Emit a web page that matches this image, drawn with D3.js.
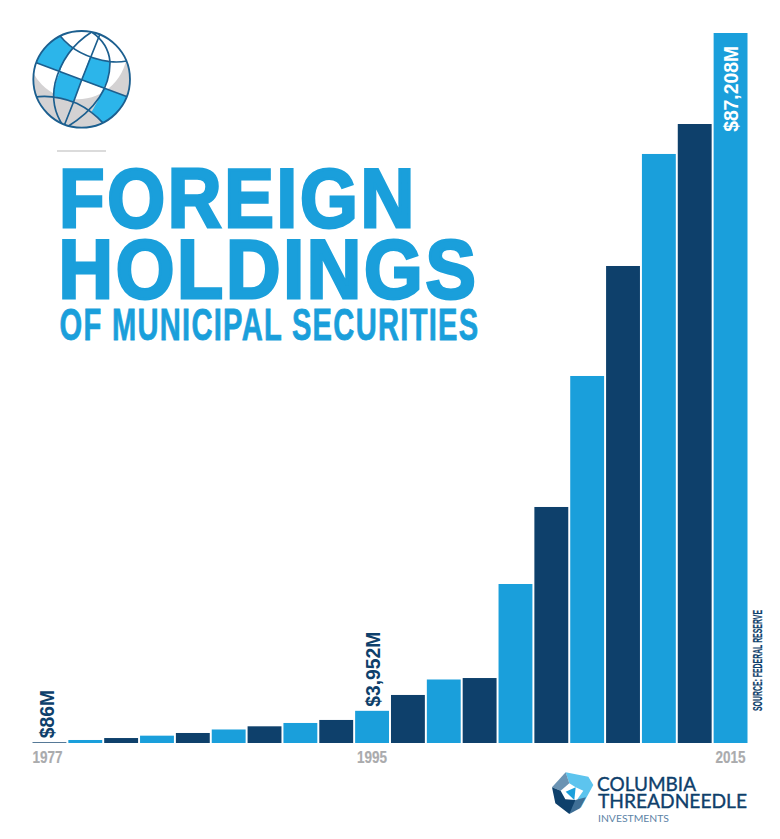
<!DOCTYPE html>
<html>
<head>
<meta charset="utf-8">
<script src="https://cdn.jsdelivr.net/npm/d3@7"></script>
<style>
  html, body { margin: 0; padding: 0; background: #fff; }
  svg { display: block; }
  text { font-family: "Liberation Sans", sans-serif; font-weight: bold; }
</style>
</head>
<body>
<div id="chart"></div>
<script>
const years = [1977, 1979, 1981, 1983, 1985, 1987, 1989, 1991, 1993, 1995,
               1997, 1999, 2001, 2003, 2005, 2007, 2009, 2011, 2013, 2015];
const holdings = [86, 370, 610, 900, 1230, 1660, 2050, 2460, 2830, 3952,
                  5900, 7800, 7980, 19530, 28990, 45080, 58590, 72350, 76030, 87208];
const tickYears = [1977, 1995, 2015];
const labelYears = [1977, 1995, 2015];
const labelText = ["$86M", "$3,952M", "$87,208M"];

const light = "#1a9fdb", dark = "#0e406b";

const width = 780, height = 839,
    margin = ({top: 33, right: 32.5, bottom: 96, left: 32.5});

const svg = d3.select("#chart")
    .append("svg")
    .attr("width", width)
    .attr("height", height)
    .attr("viewBox", [0, 0, width, height]);

let x = d3.scaleBand()
    .domain(years)
    .range([margin.left, width - margin.right])
    .paddingInner(0.055)
    .paddingOuter(0);

let y = d3.scaleLinear()
    .domain([0, d3.max(holdings)])
    .range([height - margin.bottom, margin.top]);

// bars
svg.selectAll(".bar")
    .data(years)
    .join("rect")
    .attr("class", "bar")
    .attr("x", d => x(d))
    .attr("width", x.bandwidth())
    .attr("y", (d, i) => y(holdings[i]))
    .attr("height", (d, i) => y(0) - y(holdings[i]))
    .attr("fill", (d, i) => i % 2 ? light : dark);

// axis, only three years labelled
const xAxis = g => g
    .attr("transform", `translate(0,${height - margin.bottom})`)
    .call(d3.axisBottom(x).tickValues(tickYears).tickSize(0).tickPadding(8))
    .call(g => g.select(".domain").remove())
    .call(g => g.selectAll("text")
        .attr("fill", "#aaabad")
        .attr("stroke", "#aaabad")
        .attr("stroke-width", 0.2)
        .attr("textLength", 30)
        .attr("lengthAdjust", "spacingAndGlyphs")
        .attr("dx", d => d === 1977 ? -2 : 0)
        .style("font-size", "17px")
        .style("font-family", '"Liberation Sans", sans-serif')
        .style("font-weight", "bold"));
svg.append("g").call(xAxis);

// value labels, rotated and squeezed
labelYears.forEach((yr, i) => {
    const idx = years.indexOf(yr);
    const last = i === labelYears.length - 1;
    const cx = x(yr) + x.bandwidth() / 2 + (i === 0 ? -2.5 : 0);
    const cy = last ? y(holdings[idx]) + 13 : y(holdings[idx]) - 4;
    svg.append("text")
        .attr("transform", `translate(${cx + 7.5},${cy}) rotate(-90) scale(0.92,1)`)
        .attr("text-anchor", last ? "end" : "start")
        .attr("font-size", 21)
        .attr("fill", last ? "#fff" : dark)
        .text(labelText[i]);
});

svg.append("text")
    .attr("transform", "translate(762,711) rotate(-90)")
    .attr("font-size", 13.5)
    .attr("fill", dark)
    .attr("stroke", dark)
    .attr("stroke-width", 0.2)
    .attr("textLength", 101)
    .attr("lengthAdjust", "spacingAndGlyphs")
    .text("SOURCE: FEDERAL RESERVE");

// title
svg.append("line")
    .attr("x1", 57).attr("x2", 106).attr("y1", 151).attr("y2", 151)
    .attr("stroke", "#cfcfcf").attr("stroke-width", 1.5);

const title = svg.append("g").attr("fill", light).attr("stroke", light);
title.append("text")
    .attr("x", 59).attr("y", 226.5)
    .attr("font-size", 83).attr("stroke-width", 3)
    .attr("letter-spacing", 3)
    .attr("textLength", 358).attr("lengthAdjust", "spacingAndGlyphs")
    .text("FOREIGN");
title.append("text")
    .attr("x", 58.5).attr("y", 297.5)
    .attr("font-size", 83).attr("stroke-width", 3)
    .attr("letter-spacing", 3)
    .attr("textLength", 420).attr("lengthAdjust", "spacingAndGlyphs")
    .text("HOLDINGS");
title.append("text")
    .attr("x", 59.5).attr("y", 339.5)
    .attr("font-size", 45).attr("stroke-width", 0.8)
    .attr("letter-spacing", 2)
    .attr("textLength", 420).attr("lengthAdjust", "spacingAndGlyphs")
    .text("OF MUNICIPAL SECURITIES");

// globe icon, drawn on the 3x crop grid
const globe = svg.append("g").attr("transform", "translate(20,20) scale(0.3333)");
svg.append("defs").append("clipPath").attr("id", "globeClip")
    .append("circle").attr("cx", 185).attr("cy", 178).attr("r", 145);
const globeIn = globe.append("g").attr("clip-path", "url(#globeClip)");
globeIn.append("circle").attr("cx", 185).attr("cy", 178).attr("r", 145).attr("fill", "#d4d2d3");
globeIn.append("circle").attr("cx", 172).attr("cy", 88).attr("r", 150).attr("fill", "#fff");
[
    "M120,47 Q135,70 160,85 Q130,115 120,155 L45,127 Q65,75 120,47Z",
    "M210,110 Q240,123 270,125 Q272,170 250,205 L185,180Z",
    "M120,155 L185,180 L160,245 Q130,235 100,228 Q103,190 120,155Z",
    "M250,205 L322,230 Q300,285 250,310 Q235,290 215,275 Q237,240 250,205Z"
].forEach(d => globeIn.append("path").attr("d", d).attr("fill", "#2cb5ea"));
[
    "M45,127 Q185,180 322,230",
    "M120,47 Q170,110 270,125 Q295,128 320,123",
    "M42,232 Q100,222 170,250 Q215,272 250,310",
    "M215,36 Q130,90 105,190 Q90,260 130,318",
    "M240,42 L185,180 Q160,250 132,318",
    "M215,36 Q265,70 270,125 Q272,240 140,322"
].forEach(d => globeIn.append("path").attr("d", d)
    .attr("fill", "none").attr("stroke", "#1c5f8f").attr("stroke-width", 5));
globe.append("circle").attr("cx", 185).attr("cy", 178).attr("r", 145)
    .attr("fill", "none").attr("stroke", "#1c5f8f").attr("stroke-width", 5.5);

// logo mark, same idea
const logo = svg.append("g").attr("transform", "translate(530,740) scale(0.3333)");
[
    ["M107,97 L175,110 L190,135 L152,205 L142,178 L160,152 L137,142 L118,130Z", "#5dc4ee"],
    ["M107,155 L137,142 L133,180Z", "#1a9fdb"],
    ["M66,142 L107,97 L118,130 L92,152Z", "#6b93b3"],
    ["M66,142 L92,152 L106,178 L136,180 L140,196 L118,222 L76,190Z", dark],
    ["M136,180 L168,172 L150,205 L118,222Z", "#3f6f96"]
].forEach(p => logo.append("path").attr("d", p[0]).attr("fill", p[1]));

const brand = svg.append("g");
[
    ["COLUMBIA", 597, 791, 19.5, 99, dark],
    ["THREADNEEDLE", 598, 808, 19.5, 149, dark],
    ["INVESTMENTS", 598, 822, 9, 71, "#5d83a6"]
].forEach(b => brand.append("text")
    .attr("x", b[1]).attr("y", b[2])
    .attr("font-size", b[3])
    .attr("textLength", b[4]).attr("lengthAdjust", "spacingAndGlyphs")
    .attr("fill", b[5])
    .attr("stroke", b[3] > 10 ? b[5] : "none")
    .attr("stroke-width", 0.35)
    .style("font-family", "Lato, sans-serif")
    .style("font-weight", 400)
    .text(b[0]));
</script>
</body>
</html>
